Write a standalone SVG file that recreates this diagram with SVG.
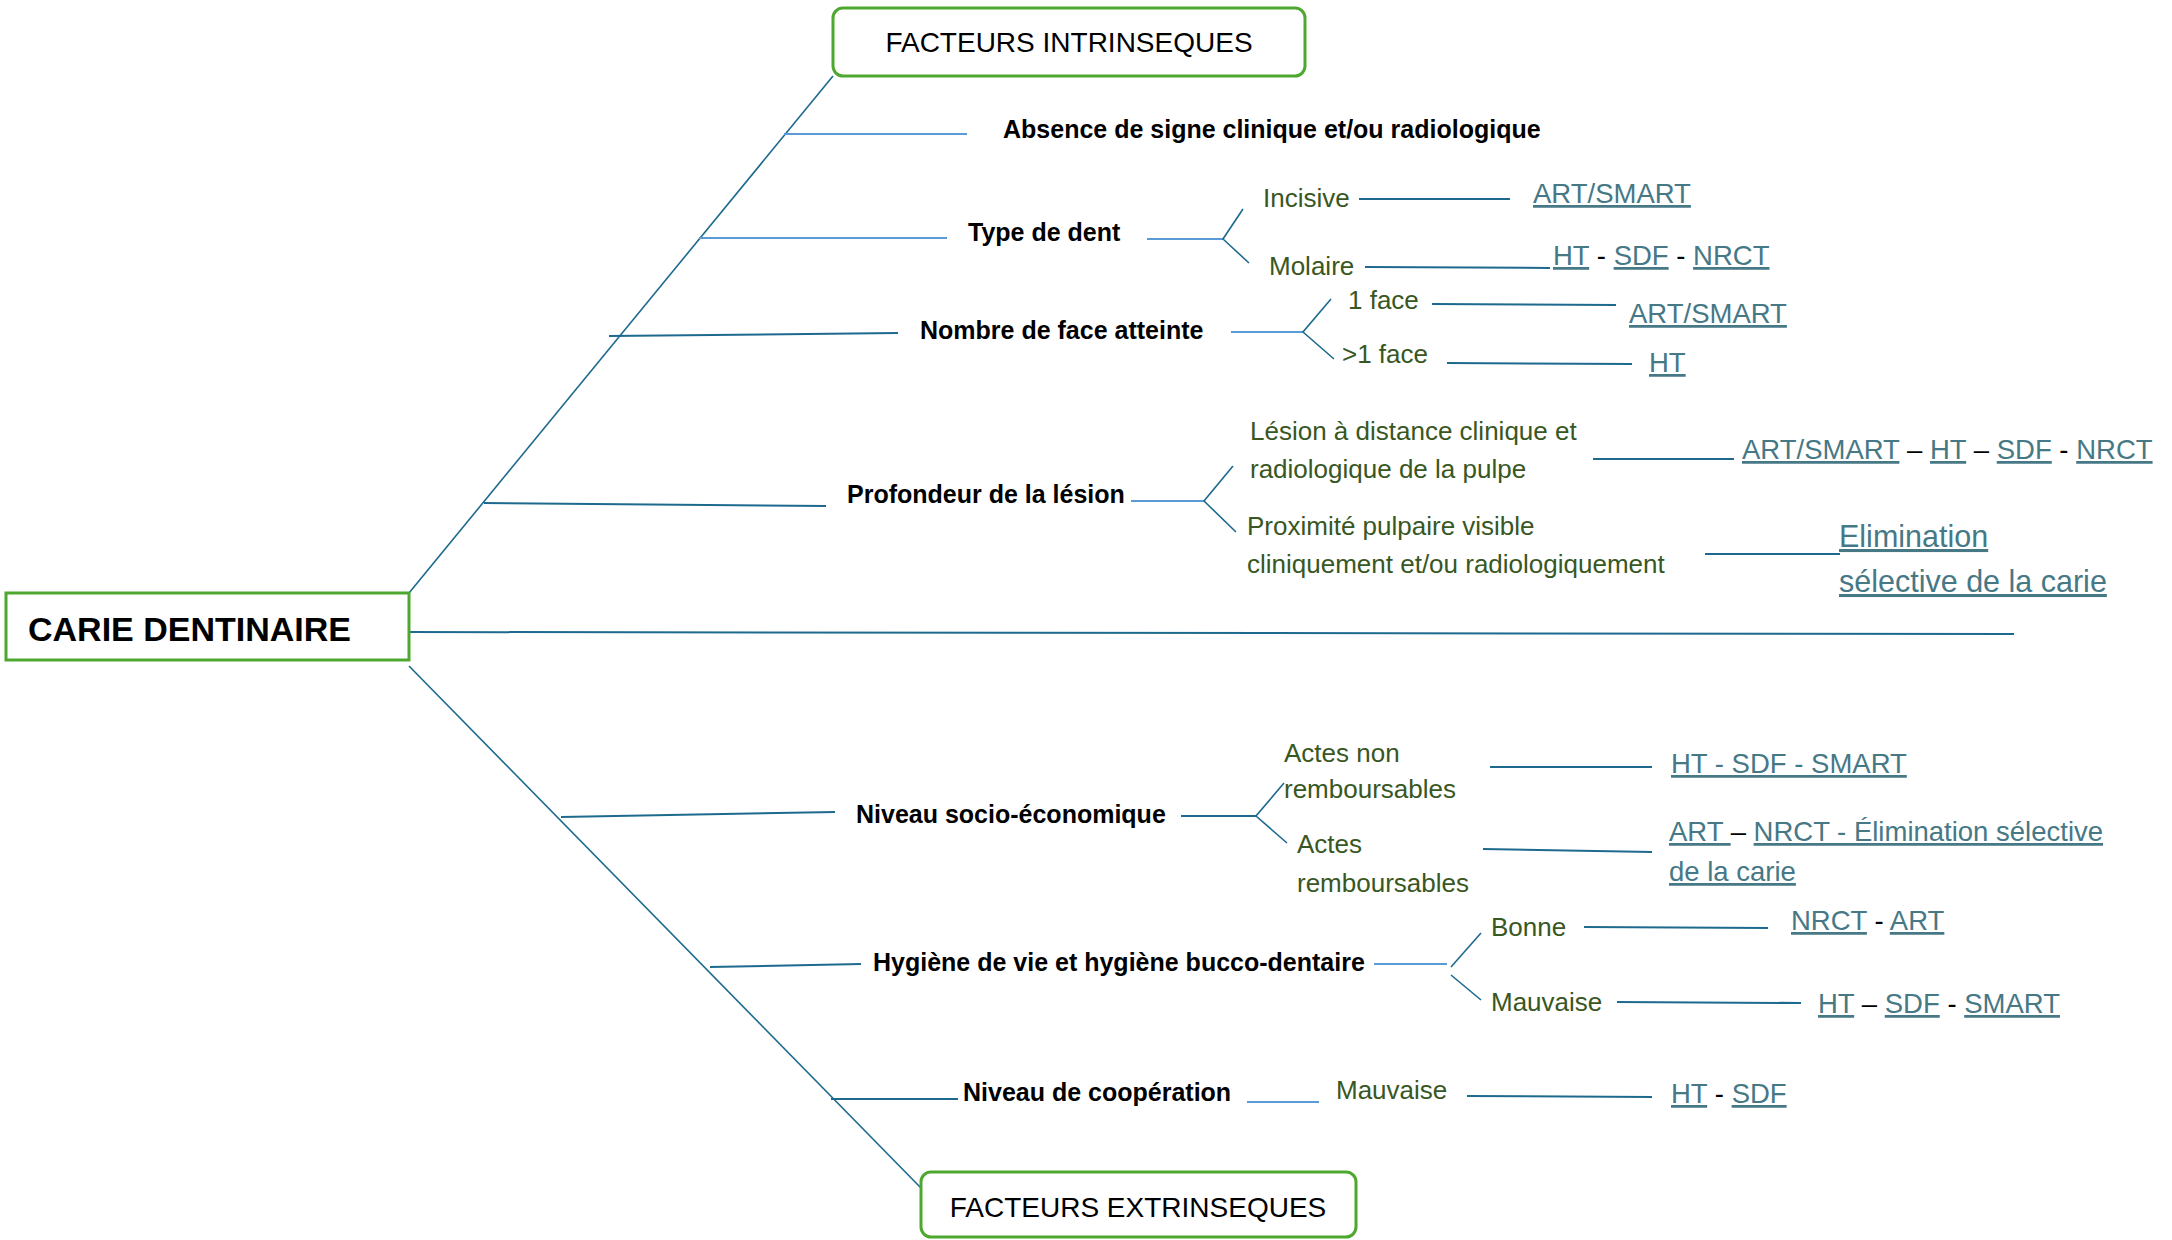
<svg xmlns="http://www.w3.org/2000/svg" width="2172" height="1240" viewBox="0 0 2172 1240">
<style>
text{font-family:"Liberation Sans",Arial,sans-serif}
.box{fill:#fff;stroke:#4ea72e;stroke-width:3}
.t{font-size:28px;fill:#000}
.tb{font-size:34px;font-weight:bold;fill:#000}
.b{font-size:25px;font-weight:bold;fill:#000}
.g{font-size:26px;fill:#385723}
.l{font-size:27.5px;fill:#467886}
.e{font-size:30.5px;fill:#467886}
.u{text-decoration:underline}
.k{fill:#000}
.lb{stroke:#5b9bd5;stroke-width:2;fill:none}
.dk{stroke:#1d6a8e;stroke-width:2;fill:none}
.th{stroke:#1d6a8e;stroke-width:1.6;fill:none}
</style>
<rect width="2172" height="1240" fill="#fff"/>
<g id="connectors">
<line class="dk" x1="409" y1="632" x2="2014" y2="634" stroke-width="2.5"/>
<line class="th" x1="409" y1="593" x2="833" y2="76"/>
<line class="th" x1="409" y1="666" x2="921" y2="1188"/>
<line class="lb" x1="784" y1="134" x2="967" y2="134"/>
<line class="lb" x1="699" y1="238" x2="947" y2="238"/>
<line class="dk" x1="609" y1="336" x2="898" y2="333"/>
<line class="dk" x1="484" y1="503" x2="826" y2="506"/>
<line class="dk" x1="561" y1="817" x2="835" y2="812"/>
<line class="dk" x1="710" y1="967" x2="861" y2="964"/>
<line class="dk" x1="831" y1="1099" x2="958" y2="1099"/>
<line class="lb" x1="1147" y1="239" x2="1223" y2="239"/>
<polyline class="th" points="1243,209 1223,239 1249,263"/>
<line class="dk" x1="1359" y1="199" x2="1510" y2="199"/>
<line class="dk" x1="1365" y1="267" x2="1550" y2="268"/>
<line class="lb" x1="1231" y1="332" x2="1303" y2="332"/>
<polyline class="th" points="1331,299 1303,332 1334,359"/>
<line class="dk" x1="1432" y1="304" x2="1616" y2="305"/>
<line class="dk" x1="1447" y1="363" x2="1632" y2="364"/>
<line class="lb" x1="1131" y1="501" x2="1204" y2="501"/>
<polyline class="th" points="1233,466 1204,501 1236,532"/>
<line class="dk" x1="1593" y1="459" x2="1734" y2="459"/>
<line class="dk" x1="1705" y1="554" x2="1840" y2="554"/>
<line class="dk" x1="1181" y1="816" x2="1256" y2="816"/>
<polyline class="th" points="1284,783 1256,816 1287,843"/>
<line class="dk" x1="1490" y1="767" x2="1652" y2="767"/>
<line class="dk" x1="1483" y1="849" x2="1652" y2="852"/>
<line class="lb" x1="1374" y1="964" x2="1447" y2="964"/>
<line class="th" x1="1451" y1="967" x2="1481" y2="933"/>
<line class="th" x1="1451" y1="975" x2="1481" y2="1000"/>
<line class="dk" x1="1584" y1="927" x2="1768" y2="928"/>
<line class="dk" x1="1617" y1="1002" x2="1801" y2="1003"/>
<line class="lb" x1="1247" y1="1102" x2="1319" y2="1102"/>
<line class="dk" x1="1467" y1="1096" x2="1652" y2="1097"/>
</g>
<g id="carie">
<rect class="box" x="6" y="593" width="403" height="67"/>
<text class="tb" x="28" y="641">CARIE DENTINAIRE</text>
</g>
<g id="intrinseques">
<rect class="box" x="833" y="8" width="472" height="68" rx="10"/>
<text class="t" x="1069" y="52" text-anchor="middle">FACTEURS INTRINSEQUES</text>
</g>
<g id="extrinseques">
<rect class="box" x="921" y="1172" width="435" height="65" rx="10"/>
<text class="t" x="1138" y="1217" text-anchor="middle">FACTEURS EXTRINSEQUES</text>
</g>
<g id="absence"><text class="b" x="1003" y="138">Absence de signe clinique et/ou radiologique</text></g>
<g id="type-dent">
<text class="b" x="968" y="241">Type de dent</text>
<text class="g" x="1263" y="207">Incisive</text>
<text class="g" x="1269" y="275">Molaire</text>
<text class="l" x="1533" y="203"><tspan class="u">ART/SMART</tspan></text>
<text class="l" x="1553" y="265"><tspan class="u">HT</tspan><tspan class="k"> - </tspan><tspan class="u">SDF</tspan><tspan class="k"> - </tspan><tspan class="u">NRCT</tspan></text>
</g>
<g id="nombre-face">
<text class="b" x="920" y="339">Nombre de face atteinte</text>
<text class="g" x="1348" y="309">1 face</text>
<text class="g" x="1342" y="363">&gt;1 face</text>
<text class="l" x="1629" y="323"><tspan class="u">ART/SMART</tspan></text>
<text class="l" x="1649" y="372"><tspan class="u">HT</tspan></text>
</g>
<g id="profondeur">
<text class="b" x="847" y="503">Profondeur de la lésion</text>
<text class="g" x="1250" y="440">Lésion à distance clinique et</text>
<text class="g" x="1250" y="478">radiologique de la pulpe</text>
<text class="g" x="1247" y="535">Proximité pulpaire visible</text>
<text class="g" x="1247" y="573">cliniquement et/ou radiologiquement</text>
<text class="l" x="1742" y="459"><tspan class="u">ART/SMART</tspan><tspan class="k"> – </tspan><tspan class="u">HT</tspan><tspan class="k"> – </tspan><tspan class="u">SDF</tspan><tspan class="k"> - </tspan><tspan class="u">NRCT</tspan></text>
<text class="e" x="1839" y="547"><tspan class="u">Elimination</tspan></text>
<text class="e" x="1839" y="592"><tspan class="u">sélective de la carie</tspan></text>
</g>
<g id="socio">
<text class="b" x="856" y="823">Niveau socio-économique</text>
<text class="g" x="1284" y="762">Actes non</text>
<text class="g" x="1284" y="798">remboursables</text>
<text class="g" x="1297" y="853">Actes</text>
<text class="g" x="1297" y="892">remboursables</text>
<text class="l" x="1671" y="773"><tspan class="u">HT - SDF - SMART</tspan></text>
<text class="l" x="1669" y="841"><tspan class="u">ART </tspan><tspan class="k">–</tspan> <tspan class="u">NRCT - Élimination sélective</tspan></text>
<text class="l" x="1669" y="881"><tspan class="u">de la carie</tspan></text>
</g>
<g id="hygiene">
<text class="b" x="873" y="971">Hygiène de vie et hygiène bucco-dentaire</text>
<text class="g" x="1491" y="936">Bonne</text>
<text class="g" x="1491" y="1011">Mauvaise</text>
<text class="l" x="1791" y="930"><tspan class="u">NRCT</tspan><tspan class="k"> - </tspan><tspan class="u">ART</tspan></text>
<text class="l" x="1818" y="1013"><tspan class="u">HT</tspan><tspan class="k"> – </tspan><tspan class="u">SDF</tspan><tspan class="k"> - </tspan><tspan class="u">SMART</tspan></text>
</g>
<g id="cooperation">
<text class="b" x="963" y="1101">Niveau de coopération</text>
<text class="g" x="1336" y="1099">Mauvaise</text>
<text class="l" x="1671" y="1103"><tspan class="u">HT</tspan><tspan class="k"> - </tspan><tspan class="u">SDF</tspan></text>
</g>
</svg>
